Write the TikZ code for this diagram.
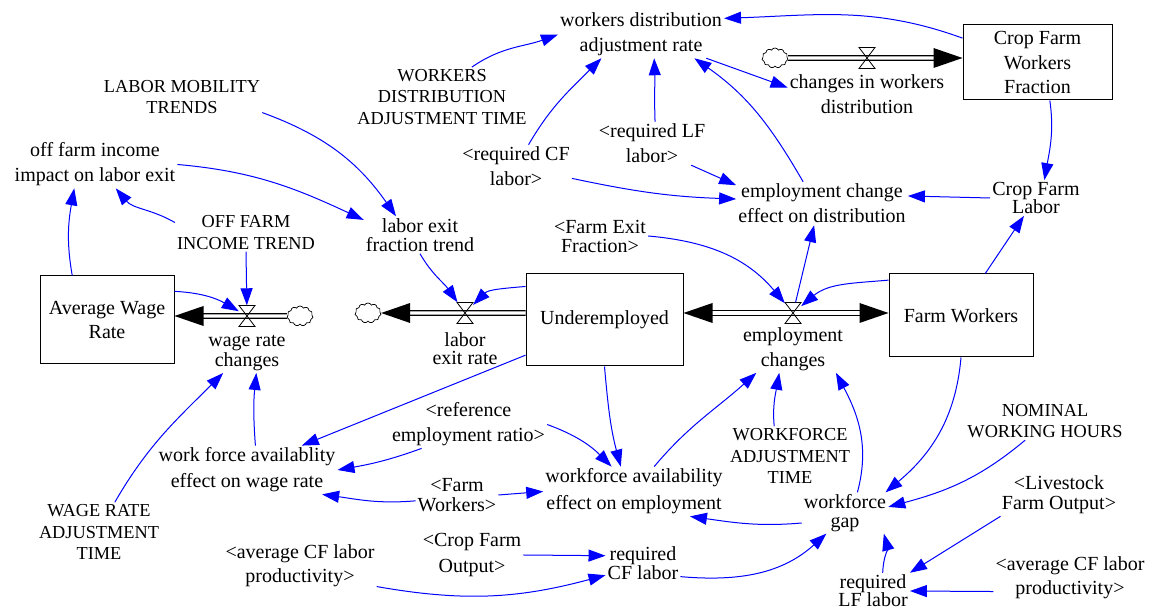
\documentclass[tikz,border=0pt]{standalone}
\usepackage{fontspec}
\setmainfont{Liberation Serif}
\usetikzlibrary{arrows.meta,shapes.symbols,calc}

\begin{document}
\begin{tikzpicture}[x=1pt,y=1pt,
  txt/.style={align=center, inner sep=2pt, font=\fontsize{20}{25}\selectfont},
  cst/.style={align=center, inner sep=2pt, font=\fontsize{18.3}{21.5}\selectfont},
  bs/.style={font={\fontsize{20}{#1}\selectfont\lineskiplimit=-30pt}},
  stock/.style={draw, line width=1pt, align=center, inner sep=0pt, font=\fontsize{20}{24.5}\selectfont},
  link/.style={draw=blue, line width=1pt, -{Triangle[length=17pt,width=12pt]}},
  pipe/.style={draw=black, line width=1.2pt, double=white, double distance=3.4pt},
  cloudn/.style={cloud, draw, cloud puffs=11, cloud puff arc=130, aspect=1.3,
    minimum width=26pt, minimum height=20pt, inner sep=0pt, line width=0.7pt},
  valvebox/.style={minimum width=16pt, minimum height=21pt, inner sep=0pt},
  valve/.pic={\draw[line width=0.8pt] (-8,10.5) -- (8,10.5) -- (-8,-10.5) -- (8,-10.5) -- cycle;},
  headL/.pic={\fill (0,0) -- (29,10) -- (29,-10) -- cycle;},
  headR/.pic={\fill (0,0) -- (-29,10) -- (-29,-10) -- cycle;},
]
\useasboundingbox (0,0) rectangle (1156,612);

% ---- stocks ----
\node[stock, minimum width=149pt, minimum height=75pt] (cfwf) at (1037.5,549.5) {Crop Farm\\Workers\\Fraction};
\node[stock, minimum width=134pt, minimum height=88pt] (awr) at (107,292) {Average Wage\\Rate};
\node[stock, minimum width=157pt, minimum height=92pt] (und) at (604.5,292) {Underemployed};
\node[stock, minimum width=144pt, minimum height=83pt] (fw) at (961,296.5) {Farm Workers};

% ---- valves and clouds ----
\node[valvebox] (vwr) at (247,296) {};
\node[valvebox] (vle) at (465,299) {};
\node[valvebox] (vec) at (793,299) {};
\node[valvebox] (vcwd) at (867,554) {};
\node[cloudn] (cw1) at (300,296) {};
\node[cloudn] (cl) at (368,299) {};
\node[cloudn] (ccwd) at (775,554) {};

% ---- flow pipes ----
\draw[pipe] (cw1.west) -- ($(awr.east |- vwr)+(28,0)$);
\pic at (awr.east |- vwr) {headL};
\draw[pipe] (und.west |- vle) -- ($(cl.east)+(28,0)$);
\pic at (cl.east) {headL};
\draw[pipe] ($(und.east |- vec)+(28,0)$) -- ($(fw.west |- vec)-(28,0)$);
\pic at (und.east |- vec) {headL};
\pic at (fw.west |- vec) {headR};
\draw[pipe] (ccwd.east) -- ($(cfwf.west |- vcwd)-(28,0)$);
\pic at (cfwf.west |- vcwd) {headR};
\pic at (vwr) {valve};
\pic at (vle) {valve};
\pic at (vec) {valve};
\pic at (vcwd) {valve};

% ---- flow names ----
\node[txt, bs=20] (wrc) at (247,259) {wage rate\\changes};
\node[txt, bs=18] (lerc) at (465,263) {labor\\exit rate};
\node[txt] (ec) at (793,263) {employment\\changes};
\node[txt] (cwd) at (867,517.5) {changes in workers\\distribution};

% ---- auxiliaries and constants ----
\node[txt] (wdar) at (641,577.5) {workers distribution\\adjustment rate};
\node[cst] (wdat) at (442,515) {WORKERS\\DISTRIBUTION\\ADJUSTMENT TIME};
\node[cst] (lmt) at (182,515) {LABOR MOBILITY\\TRENDS};
\node[txt] (ofi) at (95,447.5) {off farm income\\impact on labor exit};
\node[txt] (rcf) at (516,445.5) {<required CF\\labor>};
\node[txt] (rlf) at (652,468.5) {<required LF\\labor>};
\node[txt] (eced) at (822,408.5) {employment change\\effect on distribution};
\node[txt, bs=18] (cfl) at (1036,414) {Crop Farm\\Labor};
\node[cst] (ofit) at (246,379.5) {OFF FARM\\INCOME TREND};
\node[txt, bs=19] (lef) at (420,377) {labor exit\\fraction trend};
\node[txt, bs=19] (fef) at (600,376) {<Farm Exit\\Fraction>};
\node[txt] (rer) at (468.5,187.5) {<reference\\employment ratio>};
\node[txt, bs=26] (wfaw) at (247,142) {work force availablity\\effect on wage rate};
\node[txt, bs=20] (fwr) at (457,117) {<Farm\\Workers>};
\node[txt, bs=27] (wfae) at (634,120.5) {workforce availability\\effect on employment};
\node[cst] (wat) at (790,156) {WORKFORCE\\ADJUSTMENT\\TIME};
\node[cst] (nwh) at (1045,191) {NOMINAL\\WORKING HOURS};
\node[txt, bs=18.5] (wg) at (845,99) {workforce\\gap};
\node[txt, bs=20] (lfo) at (1059,117) {<Livestock\\Farm Output>};
\node[txt, bs=18] (rlfl) at (873,21) {required\\LF labor};
\node[txt, bs=24] (acfp2) at (1070,34) {<average CF labor\\productivity>};
\node[cst] (wrat) at (99,80) {WAGE RATE\\ADJUSTMENT\\TIME};
\node[txt, bs=24] (acfp1) at (300,46) {<average CF labor\\productivity>};
\node[txt, bs=26] (cfo) at (472,57) {<Crop Farm\\Output>};
\node[txt, bs=19] (rcfl) at (643,49) {required\\CF labor};

% ---- causal links ----
\draw[link] (cfwf.162) to[out=160,in=2] (wdar.11);
\draw[link] (wdat.45) to[out=35,in=200] (wdar.west);
\draw[link] (rcf.60) to[out=60,in=225] (wdar.211);
\draw[link] (rlf.82) to[out=92,in=-88] (wdar.-61);
\draw[link] (eced.131) to[out=120,in=-35] (wdar.-24);
\draw[link] (wdar.-20) -- (cwd.175);
\draw[link] (rcf.-12) to[out=-12,in=178] (eced.177);
\draw[link] (rlf.-29) -- (eced.168);
\draw[link] (cfwf.-72) to[out=-82,in=80] (cfl.65);
\draw[link] (cfl.west) -- (eced.5);
\draw[link] (fw.60) -- (cfl.236);
\draw[link] (vec) -- (eced.250);
\draw[link] (fef.east) to[out=-5,in=130] (vec);
\draw[link] (fw.154) to[out=185,in=40] (vec);
\draw[link] (und.157) to[out=185,in=45] (vle);
\draw[link] (lef.south) to[out=-60,in=125] (vle);
\draw[link] (lmt.-11) to[out=-20,in=125] (lef.142);
\draw[link] (ofi.east) to[out=-5,in=155] (lef.165);
\draw[link] (ofit.172) to[out=150,in=-50] (ofi.-49);
\draw[link] (awr.128) to[out=100,in=-100] (ofi.229);
\draw[link] (ofit.south) -- (vwr);
\draw[link] (awr.23) to[out=-3,in=150] (vwr);
\draw[link] (wfaw.71) to[bend left=5] (wrc.-65);
\draw[link] (wrat.62) to[out=60,in=225] (wrc.220);
\draw[link] (und.204) -- (wfaw.24);
\draw[link] (rer.207) to[out=200,in=10] (wfaw.east);
\draw[link] (fwr.188) to[out=185,in=-8] (wfaw.-18);
\draw[link] (rer.east) to[out=-20,in=135] (wfae.132);
\draw[link] (und.south) to[out=-85,in=105] (wfae.118);
\draw[link] (fwr.east) -- (wfae.west);
\draw[link] (wfae.51) to[out=50,in=222] (ec.213);
\draw[link] (wat.118) to[out=95,in=-100] (ec.240);
\draw[link] (wg.59) to[out=75,in=-62] (ec.-29);
\draw[link] (fw.south) to[out=-95,in=40] (wg.27);
\draw[link] (nwh.224) to[out=-140,in=15] (wg.8);
\draw[link] (wg.193) to[out=185,in=-8] (wfae.-24);
\draw[link] (rcfl.-20) to[out=-5,in=222] (wg.228);
\draw[link] (rlfl.62) to[out=88,in=-75] (wg.-28);
\draw[link] (lfo.200) -- (rlfl.north east);
\draw[link] (acfp2.190) -- (rlfl.east);
\draw[link] (cfo.east) -- (rcfl.169);
\draw[link] (acfp1.-15) to[out=-10,in=195] (rcfl.198);
\end{tikzpicture}
\end{document}
